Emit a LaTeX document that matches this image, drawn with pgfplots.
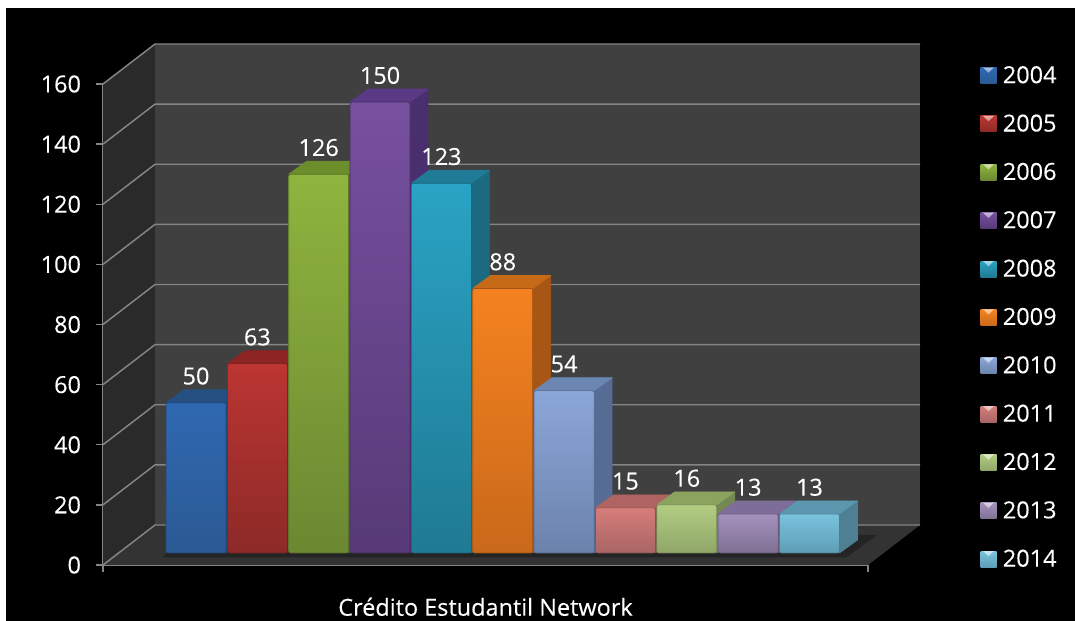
\documentclass[border=0pt]{standalone}
\usepackage{fontspec}
\setmainfont{Open Sans}[FakeBold=0.2]
\usepackage{pgfplots}
\pgfplotsset{compat=1.18}

% front top, front bottom, side, top face of each bar
\definecolor{2004a}{HTML}{2F68B1}\definecolor{2004b}{HTML}{2B5A94}\definecolor{2004c}{HTML}{234B7A}\definecolor{2004d}{HTML}{264F82}
\definecolor{2005a}{HTML}{BC3532}\definecolor{2005b}{HTML}{8C2A28}\definecolor{2005c}{HTML}{6B1F1D}\definecolor{2005d}{HTML}{8B2422}
\definecolor{2006a}{HTML}{8FB43E}\definecolor{2006b}{HTML}{6B8832}\definecolor{2006c}{HTML}{566E26}\definecolor{2006d}{HTML}{6B8E2A}
\definecolor{2007a}{HTML}{7750A0}\definecolor{2007b}{HTML}{573A77}\definecolor{2007c}{HTML}{4A2F6E}\definecolor{2007d}{HTML}{5A3985}
\definecolor{2008a}{HTML}{2AA3C4}\definecolor{2008b}{HTML}{1F7A93}\definecolor{2008c}{HTML}{1C6A82}\definecolor{2008d}{HTML}{1F7B96}
\definecolor{2009a}{HTML}{F58220}\definecolor{2009b}{HTML}{C9691A}\definecolor{2009c}{HTML}{A85614}\definecolor{2009d}{HTML}{C76A18}
\definecolor{2010a}{HTML}{8BA6D9}\definecolor{2010b}{HTML}{6B83AB}\definecolor{2010c}{HTML}{566C95}\definecolor{2010d}{HTML}{6C86B2}
\definecolor{2011a}{HTML}{D67D7B}\definecolor{2011b}{HTML}{A86564}\definecolor{2011c}{HTML}{8C5250}\definecolor{2011d}{HTML}{B06461}
\definecolor{2012a}{HTML}{B2CC82}\definecolor{2012b}{HTML}{8FA668}\definecolor{2012c}{HTML}{748854}\definecolor{2012d}{HTML}{8CA25F}
\definecolor{2013a}{HTML}{A491BD}\definecolor{2013b}{HTML}{7F7094}\definecolor{2013c}{HTML}{665A78}\definecolor{2013d}{HTML}{7D6D98}
\definecolor{2014a}{HTML}{79C3DF}\definecolor{2014b}{HTML}{5E9DB5}\definecolor{2014c}{HTML}{4E7F92}\definecolor{2014d}{HTML}{5B97AE}

\definecolor{gridc}{HTML}{858585}

\def\xlo{-1.516}
\def\xhi{10.954}
\def\hw{0.489}   % half bar width
\def\bdx{0.293}  % bar depth
\def\bdy{4.32}
\def\wdx{0.848}  % wall depth
\def\wdy{13.3}

% index, value, year
\newcommand{\threedbar}[3]{%
  \pgfmathsetmacro\xa{#1+\hw}%
  \pgfmathsetmacro\xb{#1+\hw+\bdx}%
  \pgfmathsetmacro\xc{#1-\hw}%
  \pgfmathsetmacro\xd{#1-\hw+\bdx}%
  \pgfmathsetmacro\ya{#2+\bdy}%
  \edef\doside{\noexpand\addplot[forget plot,fill=#3c,draw=#3c,line width=.5pt,line join=round,yshift=9pt]
    coordinates {(\xa,0)(\xb,\bdy)(\xb,\ya)(\xa,#2)(\xa,0)};}\doside
  \edef\dotop{\noexpand\addplot[forget plot,fill=#3d,draw=#3d,line width=.5pt,line join=round,yshift=9pt]
    coordinates {(\xc,#2)(\xa,#2)(\xb,\ya)(\xd,\ya)(\xc,#2)};}\dotop
  \addplot[ybar,bar width=45pt,bar shift=0pt,yshift=9pt,draw=#3b!80!black,line width=.5pt,rounded corners=1.5pt,
    top color=#3a,bottom color=#3b,
    nodes near coords,
    legend image code/.code={
      \shade[yshift=-9pt,top color=#3a,bottom color=#3b,draw=none,sharp corners] (0pt,-6pt) rectangle (12pt,6pt);
      \shade[yshift=-9pt,top color=white!60!#3a,bottom color=white!35!#3a,draw=none,sharp corners] (2pt,6pt)--(10pt,6pt)--(6pt,2pt)--cycle;
    }] coordinates {(#1,#2)};
  \addlegendentry{#3}%
}

% one gridline over the side wall and the back wall
\newcommand{\gridline}[1]{%
  \pgfmathsetmacro\xa{\xlo+\wdx}%
  \pgfmathsetmacro\xb{\xhi+\wdx}%
  \pgfmathsetmacro\ya{#1+\wdy}%
  \edef\dogrid{\noexpand\addplot[forget plot,gridc,line width=1.1pt]
    coordinates {(\xlo,#1)(\xa,\ya)(\xb,\ya)};}\dogrid
}

\begin{document}
\begin{tikzpicture}[font=\fontsize{17.6}{20}\selectfont]
\path[use as bounding box] (0,0) rectangle (806.25pt,465.75pt);
\fill[white] (0,0) rectangle (806.25pt,465.75pt);
\fill[black] (4.5pt,0) rectangle (806.25pt,459.75pt);
\begin{axis}[
    at={(77.25pt,42pt)},
    anchor=south west,
    scale only axis,
    width=573.75pt,
    height=360.75pt,
    clip=false,
    xmin=\xlo, xmax=\xhi,
    ymin=0, ymax=160,
    ytick={0,20,...,160},
    xtick={\xlo,\xhi},
    xticklabels={},
    axis x line*=bottom,
    axis y line*=left,
    axis line style={gridc,line width=1.1pt,-},
    tick style={gridc,line width=1.1pt},
    tick align=outside,
    major tick length=5pt,
    /pgf/number format/assume math mode=true,
    yticklabel style={text=white,xshift=-8pt},
    xlabel={Crédito Estudantil Network},
    xlabel style={at={(axis description cs:0.5,-0.087)},anchor=center,text=white},
    every node near coord/.append style={text=white,anchor=center,yshift=20pt},
    legend style={at={(1.1415,1.046)},anchor=north west,draw=none,fill=none,text=white,row sep=20pt,
      nodes={inner ysep=1pt,inner xsep=4.75pt}},
    legend cell align=left,
]
  % walls and floor
  \addplot[forget plot,fill=white!16.5!black,draw=none]
    coordinates {(\xlo,0)(-0.668,13.3)(-0.668,173.3)(\xlo,160)};
  \addplot[forget plot,fill=white!25!black,draw=none]
    coordinates {(-0.668,13.3)(11.802,13.3)(11.802,173.3)(-0.668,173.3)};
  \addplot[forget plot,fill=white!20!black,draw=none]
    coordinates {(\xlo,0)(\xhi,0)(11.802,13.3)(-0.668,13.3)};
  \addplot[forget plot,fill=white!14!black,draw=none]
    coordinates {(-0.55,2.5)(10.6,2.5)(11.1,10)(-0.2,10)};
  \gridline{0}\gridline{20}\gridline{40}\gridline{60}\gridline{80}
  \gridline{100}\gridline{120}\gridline{140}\gridline{160}

  \threedbar{0}{50}{2004}
  \threedbar{1}{63}{2005}
  \threedbar{2}{126}{2006}
  \threedbar{3}{150}{2007}
  \threedbar{4}{123}{2008}
  \threedbar{5}{88}{2009}
  \threedbar{6}{54}{2010}
  \threedbar{7}{15}{2011}
  \threedbar{8}{16}{2012}
  \threedbar{9}{13}{2013}
  \threedbar{10}{13}{2014}
\end{axis}
\end{tikzpicture}
\end{document}
